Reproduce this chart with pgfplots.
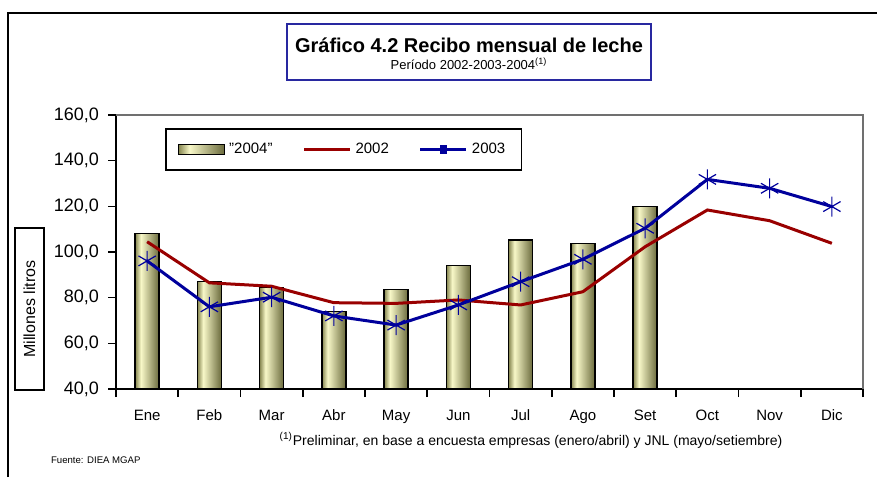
\documentclass[border=0pt]{standalone}
\usepackage{pgfplots}
\pgfplotsset{compat=1.18}
\usepackage{fontspec}
\setmainfont{Liberation Sans}
\definecolor{RedLine}{HTML}{990000}
\definecolor{BlueLine}{HTML}{00009C}
\definecolor{TitleBlue}{HTML}{2828A0}
\definecolor{BarLeft}{HTML}{85854F}
\definecolor{BarLight}{HTML}{F8F8C8}
\definecolor{BarRight}{HTML}{6A6A3C}
\definecolor{Frame}{HTML}{707070}
\pgfdeclarehorizontalshading{barshade}{100bp}{color(0bp)=(BarLeft); color(25bp)=(BarLeft);
  color(37bp)=(BarLight); color(75bp)=(BarRight); color(100bp)=(BarRight)}

\begin{document}
\begin{tikzpicture}
\useasboundingbox (0,0) rectangle (438.5pt,238.5pt);
\draw[line width=1.1pt] (4pt,0pt) -- (4pt,232pt) -- (438.5pt,232pt);
% title box
\draw[TitleBlue, line width=0.7pt] (143.5pt,198.5pt) rectangle (325.5pt,226.5pt);
\node[font=\bfseries\fontsize{10}{12}\selectfont] at (234.5pt,216pt) {Gráfico 4.2 Recibo mensual de leche};
\node[font=\fontsize{6.5}{8}\selectfont] at (234.5pt,206.5pt) {Período 2002-2003-2004\textsuperscript{(1)}};
% y label box
\node[draw, line width=0.6pt, rotate=90, minimum width=81pt, minimum height=14.5pt,
  font=\fontsize{8}{9}\selectfont] at (14.75pt,84pt) {Millones litros};
\begin{axis}[
  at={(58pt,44pt)}, anchor=south west, scale only axis,
  width=373.5pt, height=137pt,
  xmin=-0.5, xmax=11.5, ymin=40, ymax=160,
  ytick={40,60,...,160},
  xtick={0,...,11},
  xticklabels={Ene,Feb,Mar,Abr,May,Jun,Jul,Ago,Set,Oct,Nov,Dic},
  minor xtick={-0.5,0.5,...,11.5},
  axis lines=left, axis line style={-, line width=1.1pt},
  tick align=outside, major tick length=4pt, minor tick length=4pt,
  xtick style={draw=none},
  minor x tick style={draw=black, line width=0.8pt},
  ytick style={draw=black, line width=0.8pt},
  /pgf/number format/use comma,
  /pgf/number format/fixed,
  /pgf/number format/fixed zerofill,
  /pgf/number format/precision=1,
  /pgf/number format/assume math mode=true,
  yticklabel style={font=\fontsize{9}{10}\selectfont, xshift=-1pt},
  xticklabel style={font=\fontsize{7.5}{9}\selectfont, yshift=-3pt},
  legend columns=3,
  legend style={at={(0.0656,0.9526)}, anchor=north west, draw=black,
    line width=0.8pt, font=\fontsize{7.5}{9}\selectfont,
    inner xsep=6pt, inner ysep=5pt,
    /tikz/every even column/.append style={column sep=13pt}},
  legend image code/.code={\draw[#1] (0pt,0pt) -- (23pt,0pt);},
  clip=false,
  bar/.style={ybar, bar width=12pt, draw=black, line width=0.7pt, shading=barshade},
]
% 2004 (one plot per bar so that each bar gets its own shading)
\addplot[bar, legend image code/.code={\draw[shading=barshade, draw=black,
    line width=0.7pt] (0pt,-2.5pt) rectangle (23pt,2.5pt);}]
  coordinates {(0,108.2)};
\addlegendentry{"2004"}
\addplot[bar, forget plot] coordinates {(1,87.0)};
\addplot[bar, forget plot] coordinates {(2,84.5)};
\addplot[bar, forget plot] coordinates {(3,74.0)};
\addplot[bar, forget plot] coordinates {(4,83.7)};
\addplot[bar, forget plot] coordinates {(5,94.0)};
\addplot[bar, forget plot] coordinates {(6,105.3)};
\addplot[bar, forget plot] coordinates {(7,103.8)};
\addplot[bar, forget plot] coordinates {(8,120.0)};
\addplot[RedLine, line width=1.5pt, mark=none] coordinates {
  (0,104.5) (1,86.5) (2,85.0) (3,77.8) (4,77.5) (5,79.0)
  (6,76.8) (7,82.6) (8,102.3) (9,118.4) (10,113.7) (11,103.8)};
\addlegendentry{2002}
\addplot[BlueLine, line width=1.5pt, mark=asterisk, mark size=5pt,
  mark options={line width=0.6pt},
  legend image code/.code={\draw[BlueLine, line width=1.5pt] (0pt,0pt) -- (23pt,0pt);
    \fill[BlueLine] (10.5pt,-1.5pt) rectangle (12.5pt,1.5pt);}]
  coordinates {
  (0,96.1) (1,76.0) (2,80.2) (3,72.0) (4,68.0) (5,76.8)
  (6,87.0) (7,96.8) (8,110.4) (9,131.8) (10,127.9) (11,119.9)};
\addlegendentry{2003}
\draw[Frame, line width=1pt] (rel axis cs:0,1) -- (rel axis cs:1,1) -- (rel axis cs:1,0);
\end{axis}
\node[font=\fontsize{7}{8}\selectfont] at (265.5pt,18.5pt)
  {\textsuperscript{(1)}Preliminar, en base a encuesta empresas (enero/abril) y JNL (mayo/setiembre)};
\node[anchor=west, font=\fontsize{4.8}{6}\selectfont] at (22pt,8.5pt) {Fuente: DIEA MGAP};
\end{tikzpicture}
\end{document}
